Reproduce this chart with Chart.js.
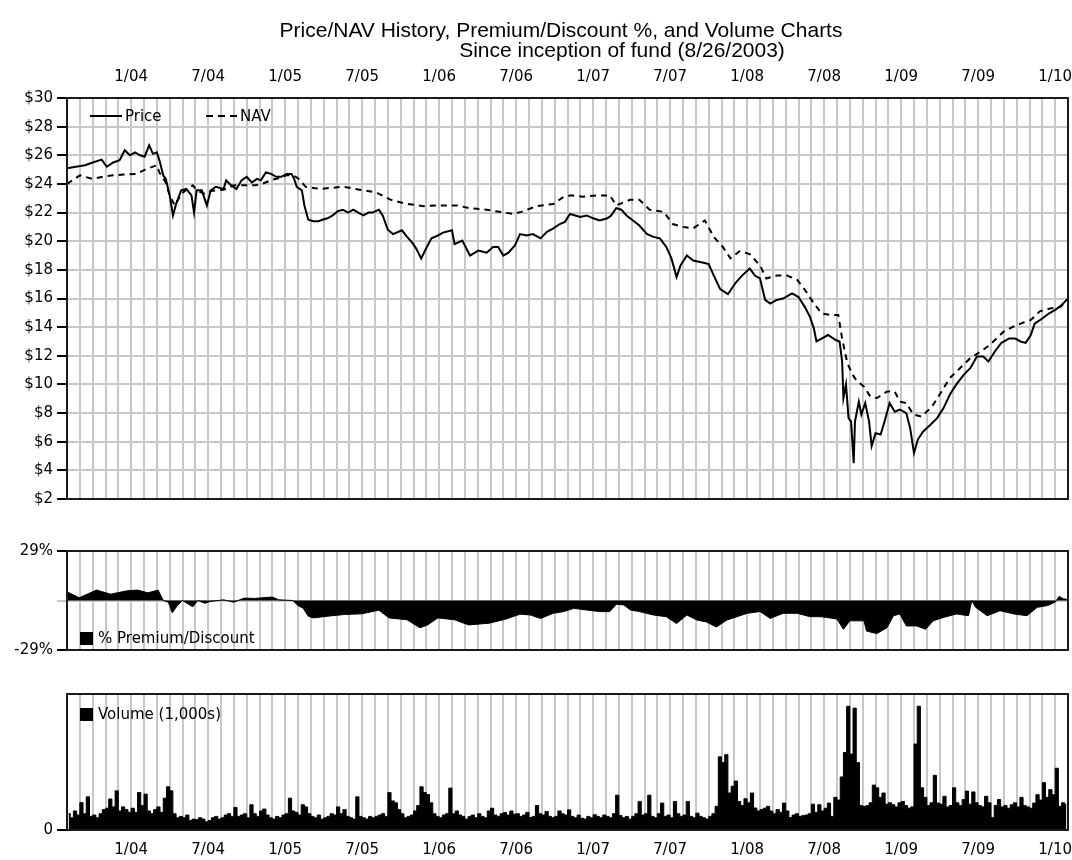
<!DOCTYPE html>
<html><head><meta charset="utf-8">
<script src="https://cdn.jsdelivr.net/npm/chart.js@4.4.1/dist/chart.umd.min.js"></script>
<style>
html,body{margin:0;padding:0;background:#fff;}
#wrap{position:relative;width:1072px;height:860px;overflow:hidden;background:#fff;}
canvas{position:absolute;left:0;}
</style></head><body>
<div id="wrap">
<canvas id="c1" width="1072" height="512" style="top:0px"></canvas>
<canvas id="c2" width="1072" height="150" style="top:520px"></canvas>
<canvas id="c3" width="1072" height="190" style="top:670px"></canvas>
</div>
<script>
// ---------- DATA ----------
// x positions are in months since August 2003 (0 = start of the axis, 78 = right edge)
const MONTHS = 78;
const tickMonths = [5, 11, 17, 23, 29, 35, 41, 47, 53, 59, 65, 71, 77];
const tickLabels = ['1/04','7/04','1/05','7/05','1/06','7/06','1/07','7/07','1/08','7/08','1/09','7/09','1/10'];
const priceTicks = [2,4,6,8,10,12,14,16,18,20,22,24,26,28,30];

const priceSeries = [
[0,25.1],[0.7,25.2],[1.4,25.3],[2.0,25.5],[2.7,25.7],[3.1,25.2],[3.6,25.5],[4.1,25.65],[4.5,26.35],[4.9,26.0],
[5.3,26.2],[5.7,26.0],[6.05,25.9],[6.4,26.7],[6.7,26.1],[7.0,26.2],[7.2,25.65],[7.5,24.6],[7.7,24.35],[8.0,23.2],
[8.26,21.8],[8.5,22.6],[8.9,23.55],[9.3,23.65],[9.7,23.2],[9.9,22.0],[10.1,23.55],[10.5,23.55],[10.9,22.5],[11.2,23.55],
[11.6,23.8],[12.2,23.65],[12.4,24.25],[12.8,23.9],[13.2,23.65],[13.6,24.25],[14.0,24.5],[14.4,24.1],[14.8,24.35],[15.1,24.25],
[15.5,24.8],[15.9,24.7],[16.3,24.5],[16.7,24.5],[17.1,24.7],[17.5,24.7],[17.7,24.35],[17.9,23.8],[18.3,23.55],[18.5,22.5],
[18.8,21.5],[19.2,21.4],[19.6,21.4],[19.9,21.5],[20.3,21.6],[20.7,21.8],[21.1,22.1],[21.5,22.2],[21.9,22.0],[22.3,22.2],
[22.7,22.0],[23.1,21.8],[23.5,22.0],[23.8,22.0],[24.3,22.2],[24.6,21.8],[25.0,20.8],[25.4,20.5],[26.1,20.76],[26.5,20.3],
[26.9,19.9],[27.2,19.5],[27.6,18.8],[27.9,19.35],[28.4,20.2],[28.9,20.4],[29.3,20.6],[30.0,20.76],[30.2,19.8],[30.8,20.05],
[31.4,19.0],[32.05,19.35],[32.7,19.2],[33.2,19.6],[33.6,19.6],[34.0,19.0],[34.4,19.2],[34.9,19.7],[35.3,20.5],[35.8,20.4],
[36.3,20.5],[36.9,20.2],[37.4,20.65],[37.9,20.9],[38.4,21.2],[38.8,21.35],[39.2,21.9],[39.6,21.8],[40.0,21.7],[40.5,21.8],
[41.0,21.6],[41.5,21.45],[42.1,21.6],[42.4,21.8],[42.8,22.3],[43.2,22.2],[43.6,21.8],[44.1,21.45],[44.6,21.1],[45.2,20.5],
[45.7,20.3],[46.2,20.2],[46.7,19.6],[47.1,18.8],[47.5,17.5],[47.8,18.3],[48.3,19.0],[48.8,18.65],[49.6,18.5],[50.0,18.4],
[50.4,17.6],[50.9,16.65],[51.5,16.3],[52.1,17.1],[52.6,17.6],[53.2,18.1],[53.6,17.6],[54.0,17.4],[54.4,15.9],[54.8,15.65],
[55.3,15.9],[55.8,16.0],[56.5,16.35],[57.0,16.1],[57.5,15.4],[57.9,14.7],[58.2,13.9],[58.4,13.0],[58.8,13.2],[59.3,13.45],
[59.9,13.1],[60.2,13.0],[60.4,11.6],[60.5,9.05],[60.7,10.0],[60.9,7.65],[61.1,7.4],[61.3,4.5],[61.4,7.4],[61.7,8.8],
[61.9,7.9],[62.2,8.7],[62.5,7.4],[62.7,5.7],[63.0,6.6],[63.4,6.5],[63.7,7.4],[64.1,8.7],[64.5,8.1],[64.9,8.25],
[65.4,8.0],[65.7,6.95],[66.0,5.2],[66.3,6.15],[66.7,6.7],[67.3,7.2],[67.8,7.65],[68.3,8.35],[68.8,9.3],[69.3,10.0],
[69.9,10.7],[70.4,11.15],[70.9,11.95],[71.4,11.95],[71.8,11.6],[72.3,12.3],[72.8,12.9],[73.4,13.2],[73.9,13.2],[74.3,13.0],
[74.7,12.9],[75.1,13.45],[75.4,14.25],[76.0,14.6],[76.5,14.95],[77.0,15.2],[77.5,15.55],[77.9,15.9],[78.0,16.0]
];

const navSeries = [
[0,24.0],[1,24.6],[2,24.35],[2.8,24.5],[3.6,24.6],[4.4,24.65],[5.4,24.7],[6.2,25.05],[7.0,25.3],[7.2,24.8],
[7.7,24.1],[8.0,23.2],[8.4,22.5],[8.9,23.3],[9.3,23.6],[9.8,23.9],[10.2,23.5],[10.75,23.3],[11.2,23.5],[12.2,23.6],
[13.0,23.9],[13.8,23.9],[14.6,23.9],[15.2,24.0],[16.0,24.3],[16.5,24.4],[17.1,24.6],[17.6,24.6],[18.0,24.4],[18.6,23.8],
[19.7,23.65],[21.5,23.8],[22.8,23.6],[24.1,23.4],[25.2,22.9],[26.5,22.6],[27.8,22.45],[29.1,22.5],[30.4,22.5],[31.4,22.3],
[32.7,22.2],[33.7,22.05],[34.8,21.9],[35.4,22.05],[36.6,22.45],[37.9,22.6],[38.7,23.1],[39.3,23.2],[40.2,23.1],[41.3,23.2],
[42.3,23.2],[42.8,22.5],[43.9,22.9],[44.6,22.9],[45.4,22.2],[46.5,22.05],[47.2,21.2],[48.0,21.0],[48.8,20.9],[49.7,21.45],
[50.4,20.3],[51.1,19.6],[51.7,18.8],[52.4,19.3],[53.2,19.1],[54.0,18.3],[54.5,17.4],[55.3,17.6],[56.1,17.6],[56.9,17.3],
[57.5,16.6],[58.2,15.65],[58.8,14.95],[59.5,14.85],[60.1,14.85],[60.4,13.2],[60.8,11.5],[61.2,10.7],[61.5,10.3],[62.1,9.85],
[62.6,9.15],[63.1,9.05],[63.9,9.5],[64.5,9.5],[64.9,8.8],[65.4,8.7],[65.95,7.9],[66.6,7.75],[67.4,8.45],[68.0,9.3],
[68.8,10.45],[69.6,11.15],[70.4,11.85],[71.2,12.3],[71.9,12.75],[73.0,13.7],[74.0,14.15],[75.1,14.5],[75.8,15.1],[76.6,15.3],
[77.4,15.4],[78.0,15.9]
];

const premiumSeries = [
[0,5.1],[0.95,1.6],[2.3,6.1],[3.4,3.7],[4.7,5.7],[5.5,6.1],[6.3,4.5],[7.1,6.1],[7.5,0],[7.9,-1],
[8.2,-7.2],[8.6,-3],[9.0,0],[9.8,-3.7],[10.2,0],[10.75,-1.6],[11.15,-0.6],[12.2,0.4],[13.0,-1],[13.8,1.4],
[14.6,1.2],[15.2,1.6],[16.0,2.0],[16.5,0.4],[17.6,0],[18.0,-3],[18.4,-4.5],[18.8,-9.2],[19.2,-10.2],[20.3,-9.2],
[21.6,-8.2],[22.96,-7.8],[24.3,-5.7],[25.1,-10.2],[26.5,-11.3],[27.5,-16.0],[28.1,-14.3],[28.9,-10.2],[30.2,-11.3],[31.3,-14.3],
[32.9,-13.3],[34.2,-10.9],[35.3,-8.0],[36.1,-8.5],[36.9,-10.5],[37.9,-7.5],[38.7,-6.5],[39.5,-4.6],[40.5,-5.6],[41.5,-6.5],
[42.3,-6.5],[42.8,-2.2],[43.4,-2.6],[43.9,-5.6],[44.6,-6.5],[45.7,-8.5],[46.7,-9.5],[47.5,-13.5],[48.3,-8.5],[49.1,-11.5],
[49.8,-12.5],[50.6,-15.5],[51.4,-11.5],[52.2,-9.5],[53.0,-7.5],[54.0,-6.5],[54.8,-10.5],[55.8,-7.5],[56.9,-7.5],[57.9,-9.5],
[58.7,-9.5],[59.2,-9.9],[60.0,-10.9],[60.5,-16.9],[61.0,-11.9],[62.1,-11.9],[62.3,-17.9],[63.1,-19.4],[63.9,-15.9],[64.4,-8.9],
[64.9,-7.9],[65.4,-14.9],[66.2,-14.9],[66.9,-16.9],[67.5,-11.9],[68.3,-9.9],[69.3,-7.9],[70.25,-8.9],[70.5,0],[70.8,-4],
[71.7,-8.9],[72.7,-6],[73.8,-7.9],[74.8,-8.9],[75.6,-4],[76.4,-3],[77.0,-1],[77.3,2.4],[77.65,1],[78,0.6]
];

// weekly volume (1,000s), four values per month, August 2003 .. January 2010
const VOL_PER_MONTH = 4;
const volumeValues = [
60,45,70,55, 101,60,122,50, 55,45,60,75, 80,114,85,144, 70,85,75,65,
80,65,138,90, 132,70,60,75, 85,65,117,159, 144,60,45,50, 45,55,35,40,
38,45,40,30, 35,45,50,40, 45,55,60,50, 83,50,55,60, 45,93,60,50,
70,77,55,45, 40,50,45,55, 60,117,70,65, 55,93,85,60, 50,45,55,40,
45,50,60,55, 85,60,75,50, 45,40,122,50, 45,40,50,45, 50,55,60,50,
138,107,100,75, 60,45,50,55, 70,90,159,138, 130,100,60,50, 45,55,60,154,
60,70,55,50, 40,50,55,45, 60,50,45,70, 80,55,50,60, 64,55,70,58,
60,50,55,65, 46,50,90,60, 55,68,50,45, 50,70,60,55, 74,50,45,55,
43,40,50,45, 56,50,45,55, 50,45,60,128, 53,45,50,40, 50,60,105,55,
60,128,50,45, 60,99,50,55, 45,105,60,50, 55,105,50,45, 62,50,45,40,
50,60,87,269, 248,277,136,161, 180,105,90,115, 100,136,81,70, 75,80,87,70,
60,75,65,99, 70,46,55,60, 50,53,55,60, 95,65,93,70, 80,99,50,120,
110,195,285,455, 279,448,248,90, 87,90,100,165, 155,120,136,95, 100,93,85,100,
105,90,80,85, 316,455,155,120, 90,100,201,99, 95,124,85,90, 155,100,90,112,
143,95,140,100, 90,85,124,100, 46,90,112,85, 90,80,93,100, 85,120,90,85,
80,99,130,110, 174,120,149,130, 227,87,100,93
];

// ---------- STYLE ----------
const TICK_FONT = { family: 'DejaVu Sans', size: 15 };
const GRID = '#c8c8c8';
const LEFT = 67;

function xAxis(position, showLabels, height, pad) {
  return {
    type: 'linear', position: position, min: 0, max: MONTHS,
    afterBuildTicks: s => { const t = []; for (let i = 0; i <= MONTHS; i++) t.push({ value: i }); s.ticks = t; },
    ticks: {
      display: showLabels, autoSkip: false, maxRotation: 0, minRotation: 0,
      padding: pad, font: TICK_FONT, color: '#000',
      callback: v => { const k = tickMonths.indexOf(v); return k >= 0 ? tickLabels[k] : ''; }
    },
    grid: { color: GRID, lineWidth: 2, drawTicks: false },
    border: { display: false },
    afterFit: s => { s.height = height; s.paddingLeft = 0; s.paddingRight = 0; }
  };
}

const frame = {
  id: 'frame',
  afterDraw(chart) {
    const a = chart.chartArea, c = chart.ctx;
    c.save();
    c.strokeStyle = '#1a1a1a'; c.lineWidth = 2;
    c.strokeRect(a.left, a.top, a.right - a.left, a.bottom - a.top);
    c.restore();
  }
};

function legendBox(ctx, x, y, text) {
  ctx.fillStyle = '#000';
  ctx.fillRect(x, y - 6, 13, 13);
  ctx.font = '15px "DejaVu Sans"';
  ctx.textBaseline = 'middle';
  ctx.textAlign = 'left';
  ctx.fillText(text, x + 18, y + 1);
}

const baseOpts = {
  responsive: false, animation: false, events: [],
  plugins: { legend: { display: false }, tooltip: { enabled: false }, title: { display: false } }
};

// ---------- CHART 1: Price / NAV ----------
new Chart(document.getElementById('c1'), {
  type: 'line',
  data: { datasets: [
    { label: 'Price', data: priceSeries.map(p => ({ x: p[0], y: p[1] })), borderColor: '#000', borderWidth: 2, pointRadius: 0, tension: 0, fill: false },
    { label: 'NAV', data: navSeries.map(p => ({ x: p[0], y: p[1] })), borderColor: '#000', borderWidth: 2, borderDash: [6, 5], pointRadius: 0, tension: 0, fill: false }
  ]},
  options: Object.assign({}, baseOpts, {
    layout: { padding: { left: 0, right: 4, top: 0, bottom: 10 } },
    scales: {
      x: xAxis('top', true, 98, 12),
      y: {
        min: 2, max: 30,
        afterBuildTicks: s => { s.ticks = priceTicks.map(v => ({ value: v })); },
        ticks: { font: TICK_FONT, color: '#000', padding: 4, callback: v => '$' + v },
        grid: { color: GRID, lineWidth: 2, tickColor: '#000', tickLength: 10, tickWidth: 2 },
        border: { display: false },
        afterFit: s => { s.width = LEFT; }
      }
    }
  }),
  plugins: [frame, {
    id: 'titleAndLegend',
    afterDraw(chart) {
      const c = chart.ctx;
      c.save();
      c.fillStyle = '#000';
      c.font = '21px "Liberation Sans"';
      c.textAlign = 'center'; c.textBaseline = 'alphabetic';
      c.fillText('Price/NAV History, Premium/Discount %, and Volume Charts', 561, 37);
      c.fillText('Since inception of fund (8/26/2003)', 622, 57);
      // legend
      c.strokeStyle = '#000'; c.lineWidth = 2;
      c.beginPath(); c.moveTo(90, 116); c.lineTo(122, 116); c.stroke();
      c.setLineDash([7, 5]);
      c.beginPath(); c.moveTo(206, 116); c.lineTo(238, 116); c.stroke();
      c.setLineDash([]);
      c.font = '15px "DejaVu Sans"'; c.textAlign = 'left'; c.textBaseline = 'middle';
      c.fillText('Price', 125, 117);
      c.fillText('NAV', 240, 117);
      c.restore();
    }
  }]
});

// ---------- CHART 2: Premium / Discount ----------
new Chart(document.getElementById('c2'), {
  type: 'line',
  data: { datasets: [
    { label: '% Premium/Discount', data: premiumSeries.map(p => ({ x: p[0], y: p[1] })), borderColor: '#000', borderWidth: 1, backgroundColor: '#000', fill: 'origin', pointRadius: 0, tension: 0 }
  ]},
  options: Object.assign({}, baseOpts, {
    layout: { padding: { left: 0, right: 4, top: 31, bottom: 20 } },
    scales: {
      x: xAxis('bottom', false, 0, 0),
      y: {
        min: -29, max: 29,
        afterBuildTicks: s => { s.ticks = [{ value: -29 }, { value: 0 }, { value: 29 }]; },
        ticks: { font: TICK_FONT, color: '#000', padding: 4, callback: v => v === 0 ? '' : v + '%' },
        grid: {
          lineWidth: 2, tickLength: 10, tickWidth: 2,
          color: ctx => (ctx.tick && ctx.tick.value === 0) ? GRID : 'rgba(0,0,0,0)',
          tickColor: ctx => (ctx.tick && ctx.tick.value === 0) ? GRID : '#000'
        },
        border: { display: false },
        afterFit: s => { s.width = LEFT; }
      }
    }
  }),
  plugins: [frame, {
    id: 'premLegend',
    afterDraw(chart) { const c = chart.ctx; c.save(); legendBox(c, 80, 118, '% Premium/Discount'); c.restore(); }
  }]
});

// ---------- CHART 3: Volume ----------
new Chart(document.getElementById('c3'), {
  type: 'line',
  data: { datasets: [
    { label: 'Volume (1,000s)', data: volumeValues.map((v, i) => ({ x: (i + 0.5) / VOL_PER_MONTH, y: v })), borderColor: '#000', borderWidth: 1, backgroundColor: '#000', fill: 'origin', stepped: 'middle', pointRadius: 0 }
  ]},
  options: Object.assign({}, baseOpts, {
    layout: { padding: { left: 0, right: 4, top: 24, bottom: 0 } },
    scales: {
      x: xAxis('bottom', true, 30, 11),
      y: {
        min: 0, max: 500,
        afterBuildTicks: s => { s.ticks = [{ value: 0 }]; },
        ticks: { font: TICK_FONT, color: '#000', padding: 4, callback: v => String(v) },
        grid: { color: 'rgba(0,0,0,0)', lineWidth: 2, tickColor: '#000', tickLength: 10, tickWidth: 2 },
        border: { display: false },
        afterFit: s => { s.width = LEFT; }
      }
    }
  }),
  plugins: [frame, {
    id: 'volLegend',
    afterDraw(chart) { const c = chart.ctx; c.save(); legendBox(c, 80, 44, 'Volume (1,000s)'); c.restore(); }
  }]
});
</script>
</body></html>
